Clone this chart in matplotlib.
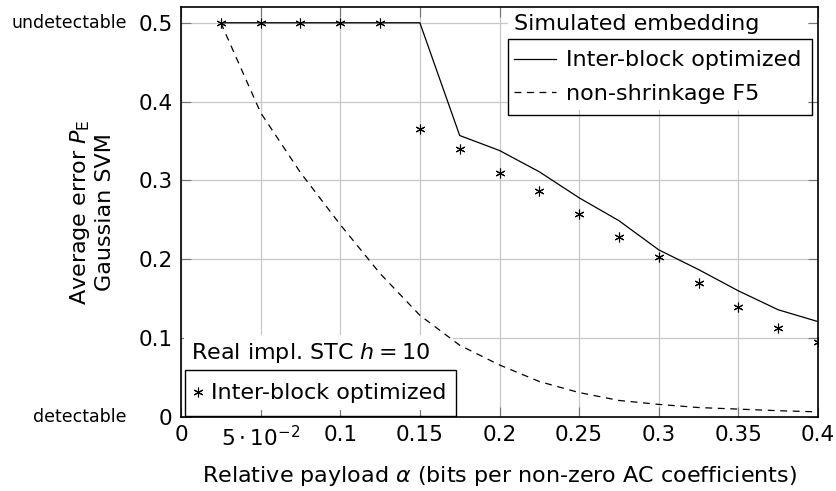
import matplotlib
matplotlib.use('Agg')
import matplotlib.pyplot as plt
from matplotlib.patches import Rectangle

# payload values (relative payload alpha)
alpha = [0.025, 0.05, 0.075, 0.1, 0.125, 0.15, 0.175, 0.2, 0.225, 0.25,
         0.275, 0.3, 0.325, 0.35, 0.375, 0.4]

# simulated embedding
sim_interblock = [0.5, 0.5, 0.5, 0.5, 0.5, 0.5, 0.357, 0.338, 0.311, 0.278,
                  0.249, 0.212, 0.187, 0.160, 0.136, 0.121]
sim_f5 = [0.5, 0.386, 0.31, 0.244, 0.182, 0.129, 0.091, 0.066, 0.045, 0.031,
          0.021, 0.016, 0.012, 0.010, 0.008, 0.0065]

# real implementation STC h=10
real_interblock = [0.5, 0.5, 0.5, 0.5, 0.5, 0.365, 0.340, 0.310, 0.287, 0.257,
                   0.228, 0.203, 0.170, 0.140, 0.113, 0.095]

xticks = [0, 0.05, 0.1, 0.15, 0.2, 0.25, 0.3, 0.35, 0.4]
xticklabels = ['0', r'$5\cdot10^{-2}$', '0.1', '0.15', '0.2', '0.25', '0.3', '0.35', '0.4']
yticks = [0, 0.1, 0.2, 0.3, 0.4, 0.5]
yticklabels = ['0', '0.1', '0.2', '0.3', '0.4', '0.5']

plt.rcParams['mathtext.fontset'] = 'dejavusans'

fs = 15.5
fig = plt.figure(figsize=(8.36, 4.91), dpi=100)
ax = fig.add_axes([181 / 836, 74 / 491, 637 / 836, 410 / 491])

ax.grid(True, color='#c8c8c8', linewidth=0.9)
ax.set_axisbelow(True)

l1, = ax.plot(alpha, sim_interblock, '-', color='black', linewidth=0.9,
              label='Inter-block optimized')
l2, = ax.plot(alpha, sim_f5, '--', color='black', linewidth=0.9,
              dashes=(5.5, 4.5), label='non-shrinkage F5')
l3, = ax.plot(alpha, real_interblock, linestyle='none', marker=(6, 2, 0),
              markersize=7, color='black', markeredgewidth=0.8,
              label='Inter-block optimized')

ax.set_xlim(0, 0.4)
ax.set_ylim(0, 0.52)
ax.set_xticks(xticks)
ax.set_xticklabels(xticklabels)
ax.set_yticks(yticks)
ax.set_yticklabels(yticklabels)
ax.tick_params(direction='in', length=7, color='#777777', top=True, right=True,
               labelsize=fs)
ax.tick_params(axis='x', pad=6)
ax.tick_params(axis='y', pad=6)
for s in ax.spines.values():
    s.set_linewidth(1.2)

ax.set_xlabel(r'Relative payload $\alpha$ (bits per non-zero AC coefficients)',
              fontsize=16)
ax.xaxis.set_label_coords(0.5, -0.115)
ax.set_ylabel('Average error $P_\\mathrm{E}$\nGaussian SVM', fontsize=16,
              linespacing=1.15)
ax.yaxis.set_label_coords(-0.104, 0.5)

# extra labels left of the y axis
ax.text(-0.085, 0.5, 'undetectable', transform=ax.get_yaxis_transform(),
        ha='right', va='center', fontsize=12.5)
ax.text(-0.085, 0.0, 'detectable', transform=ax.get_yaxis_transform(),
        ha='right', va='center', fontsize=12.5)

leg1 = ax.legend(handles=[l1, l2], loc='upper right', bbox_to_anchor=(0.985, 1.0),
                 title='Simulated embedding', title_fontsize=16, fontsize=16,
                 frameon=True, fancybox=False, borderaxespad=0.0,
                 handlelength=1.9, handletextpad=0.45, borderpad=0.3,
                 labelspacing=0.6)
leg1.get_frame().set_edgecolor('none')
leg1.get_frame().set_facecolor('white')
leg1.get_frame().set_alpha(1)
leg1._legend_box.align = 'left'
leg1._legend_box.sep = 12
leg1.set_zorder(1.5)
ax.add_artist(leg1)

leg2 = ax.legend(handles=[l3], loc='lower left', bbox_to_anchor=(0.005, 0.017),
                 title=r'Real impl. STC $h=10$', title_fontsize=16, fontsize=16,
                 frameon=True, fancybox=False, borderaxespad=0.0,
                 handlelength=0.6, handletextpad=0.3, borderpad=0.3)
leg2.get_frame().set_edgecolor('none')
leg2.get_frame().set_facecolor('white')
leg2.get_frame().set_alpha(1)
leg2._legend_box.align = 'left'
leg2._legend_box.sep = 13
leg2.set_zorder(1.5)

# draw a box around the entries only
fig.canvas.draw()
inv = fig.transFigure.inverted()
for leg, pad in ((leg1, 11), (leg2, 13)):
    bb = leg._legend_handle_box.get_window_extent()
    (x0, y0), (x1, y1) = inv.transform([[bb.x0 - 6, bb.y0 - pad],
                                        [bb.x1 + 10, bb.y1 + pad]])
    fig.patches.append(Rectangle((x0, y0), x1 - x0, y1 - y0, transform=fig.transFigure,
                                 fill=False, edgecolor='black', linewidth=1.0,
                                 zorder=10))

fig.savefig('out.png', dpi=100)
